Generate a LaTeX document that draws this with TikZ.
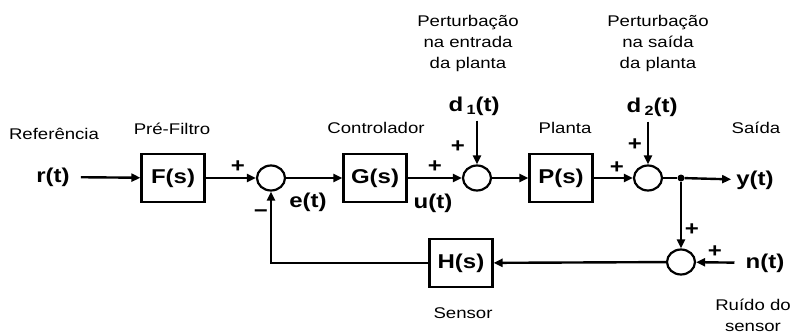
\documentclass[tikz,border=0pt]{standalone}
\usepackage{fontspec}
\setmainfont{Liberation Sans}[FakeStretch=1.2]
\usetikzlibrary{shapes.geometric, arrows.meta}
\tikzstyle{block} = [rectangle, draw=black, line width=2.2pt, minimum width=63pt, minimum height=48pt, inner sep=0pt, font=\fontsize{20}{23}\selectfont\bfseries]
\tikzstyle{sum} = [ellipse, draw=black, line width=2.2pt, minimum width=28pt, minimum height=25pt, inner sep=0pt]
\tikzstyle{signal} = [inner sep=5pt, font=\fontsize{20}{23}\selectfont\bfseries]
\tikzstyle{sinal} = [inner sep=0pt, font=\fontsize{20}{23}\selectfont\bfseries]
\tikzstyle{legenda} = [inner sep=0pt, font=\fontsize{15.5}{21}\selectfont]
\tikzstyle{line} = [line width=2.4pt]
\tikzstyle{arrow} = [line width=2.4pt,-{Triangle[length=9pt,width=8pt]}]
\newcommand{\sub}[1]{\,\raisebox{-0.35ex}{\fontsize{13.5}{13.5}\selectfont #1}}

\begin{document}
\begin{tikzpicture}[x=1pt, y=-1pt]
\useasboundingbox (0,0) rectangle (801,333);

% Blocos
\node (F) [block] at (173,178) {F(s)};
\node (G) [block] at (375,178) {G(s)};
\node (P) [block] at (561,178) {P(s)};
\node (H) [block] at (461,263) {H(s)};

% Somadores
\node (s1) [sum] at (271,178) {};
\node (s2) [sum] at (477,178) {};
\node (s3) [sum] at (648,178) {};
\node (s4) [sum] at (681,262) {};
\node (ramo) [circle, fill=black, inner sep=0pt, minimum size=7pt] at (681,178) {};

% Sinais
\node (rt) [signal] at (53,177) {r(t)};
\node (d1) [signal] at (474,106) {d\sub{1}(t)};
\node (d2) [signal] at (652,107) {d\sub{2}(t)};
\node (yt) [signal] at (755,180) {y(t)};
\node (nt) [signal] at (765,263) {n(t)};
\node (et) [signal, inner sep=0pt] at (308,202) {e(t)};
\node (ut) [signal, inner sep=0pt] at (433,203) {u(t)};

% Legendas
\node (referencia) [legenda] at (54,134) {Referência};
\node (prefiltro) [legenda] at (172,129) {Pré-Filtro};
\node (controlador) [legenda] at (376,128) {Controlador};
\node (planta) [legenda] at (565,128) {Planta};
\node (saida) [legenda] at (756,128) {Saída};
\node (pert1) [legenda, align=center] at (468,43) {Perturbação\\na entrada\\da planta};
\node (pert2) [legenda, align=center] at (658,43) {Perturbação\\na saída\\da planta};
\node (sensor) [legenda] at (463,313) {Sensor};
\node (ruido) [legenda, align=center] at (753,315) {Ruído do\\sensor};

% Sinais dos somadores
\node (p1) [sinal] at (238,167) {+};
\node (m1) [sinal] at (261,214) {−};
\node (p2) [sinal] at (435,167) {+};
\node (p3) [sinal] at (458,147) {+};
\node (p4) [sinal] at (617,168) {+};
\node (p5) [sinal] at (635,145) {+};
\node (p6) [sinal] at (692,230) {+};
\node (p7) [sinal] at (715,252) {+};

% Ligacoes
\draw [arrow, shorten <=6pt] (rt) -- (F);
\draw [arrow] (F) -- (s1);
\draw [arrow] (s1) -- (G);
\draw [arrow] (G) -- (s2);
\draw [arrow] (d1.south -| s2.north) -- (s2);
\draw [arrow] (s2) -- (P);
\draw [arrow] (P) -- (s3);
\draw [arrow] (d2.south -| s3.north) -- (s3);
\draw [line] (s3) -- (ramo);
\draw [arrow] (ramo) -- (yt);

% Realimentacao
\draw [arrow] (ramo) -- (s4);
\draw [arrow, shorten <=6pt] (nt) -- (s4);
\draw [arrow] (s4) -- (H);
\draw [arrow] (H.west) -| (s1.south);

\end{tikzpicture}
\end{document}
